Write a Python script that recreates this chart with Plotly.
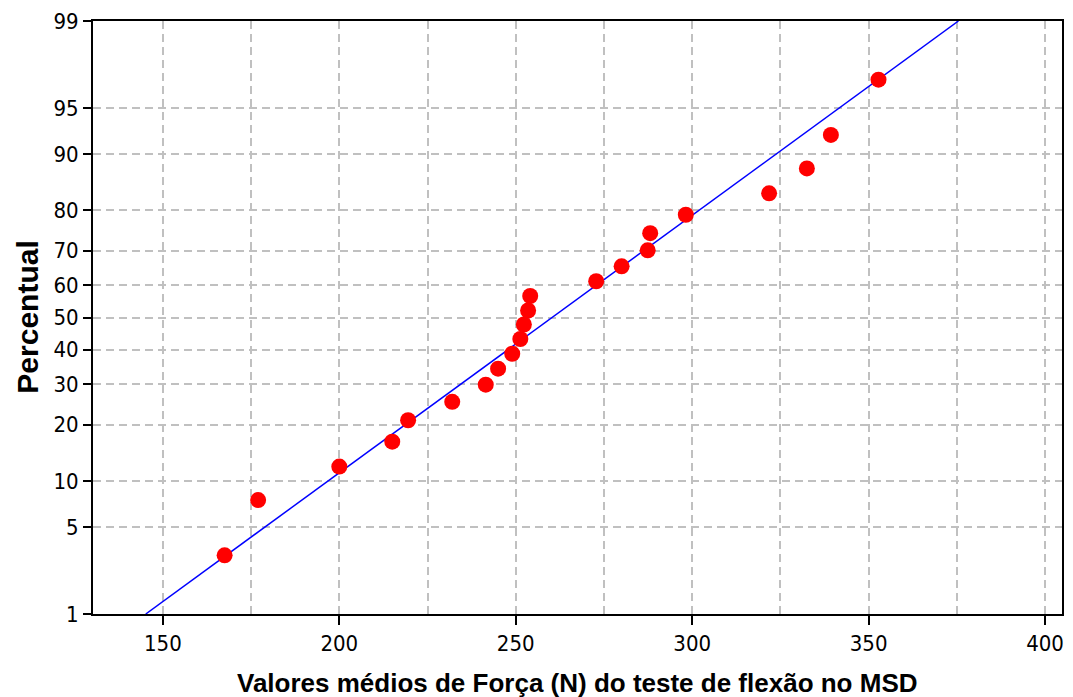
from statistics import NormalDist
import plotly.graph_objects as go

# Data
forca = [167.5, 177.0, 200.0, 215.0, 219.5, 232.0, 241.5, 245.0, 249.0, 251.3, 252.3,
         253.5, 254.1, 272.8, 280.0, 287.4, 288.1, 298.2, 321.8, 332.5, 339.3, 352.8]
percentual = [3.1, 7.6, 12.1, 16.5, 21.0, 25.4, 29.9, 34.4, 38.8, 43.3, 47.8,
              52.2, 56.7, 61.2, 65.6, 70.1, 74.6, 79.0, 83.5, 87.9, 92.4, 96.9]

# Fitted normal distribution (reference line)
media = 260.3
desvio = 49.5
linha_pct = [1, 99]

y_ticks = [1, 5, 10, 20, 30, 40, 50, 60, 70, 80, 90, 95, 99]
x_ticks = [150, 200, 250, 300, 350, 400]

nd = NormalDist()
def z(p):
    return nd.inv_cdf(p / 100.0)

pts_y = [z(p) for p in percentual]
line_x = [media + desvio * z(p) for p in linha_pct]
line_y = [z(p) for p in linha_pct]

grid = dict(gridcolor="#c0c0c0", gridwidth=1.5, griddash="8px,5px")
tickfont = dict(family="DejaVu Sans Condensed, DejaVu Sans, sans-serif", size=22, color="black")

fig = go.Figure()
fig.add_trace(go.Scatter(x=line_x, y=line_y, mode="lines",
                         line=dict(color="#0000ff", width=1.5), showlegend=False,
                         hoverinfo="skip"))
fig.add_trace(go.Scatter(x=forca, y=pts_y, mode="markers",
                         marker=dict(color="#ff0000", size=16, line=dict(width=0)),
                         showlegend=False))

fig.update_layout(
    width=1073, height=697,
    margin=dict(l=93, r=9, t=18, b=83),
    plot_bgcolor="white", paper_bgcolor="white",
    xaxis=dict(range=[130.2, 404.8], tickvals=x_ticks, ticks="outside", ticklen=9,
               tickcolor="black", tickwidth=1.5, tickfont=tickfont,
               showline=True, linecolor="black", linewidth=2, mirror=True,
               showgrid=True, zeroline=False, **grid,
               minor=dict(dtick=25, tick0=0, showgrid=True, ticks="", **grid)),
    yaxis=dict(range=[z(1), z(99)], tickvals=[z(p) for p in y_ticks],
               ticktext=[str(p) for p in y_ticks], ticks="outside", ticklen=8,
               tickcolor="black", tickwidth=1.5, tickfont=tickfont,
               showline=True, linecolor="black", linewidth=2, mirror=True,
               showgrid=True, zeroline=False, **grid),
    annotations=[
        dict(text="Valores médios de Força (N) do teste de flexão no MSD",
             xref="paper", yref="paper", x=0.5, y=-69 / 596, xanchor="center", yanchor="middle",
             showarrow=False,
             font=dict(family="Liberation Sans, Arial, sans-serif", size=26, color="black", weight="bold")),
        dict(text="Percentual", xref="paper", yref="paper", x=-66 / 971, y=0.5,
             xanchor="center", yanchor="middle", textangle=-90, showarrow=False,
             font=dict(family="Liberation Sans, Arial, sans-serif", size=30, color="black", weight="bold")),
    ],
)

# remove the default 8px page margin so the figure sits at the window's top-left corner
fig.write_html("out.html", config={"displayModeBar": False},
               post_script="document.body.style.margin='0';")
